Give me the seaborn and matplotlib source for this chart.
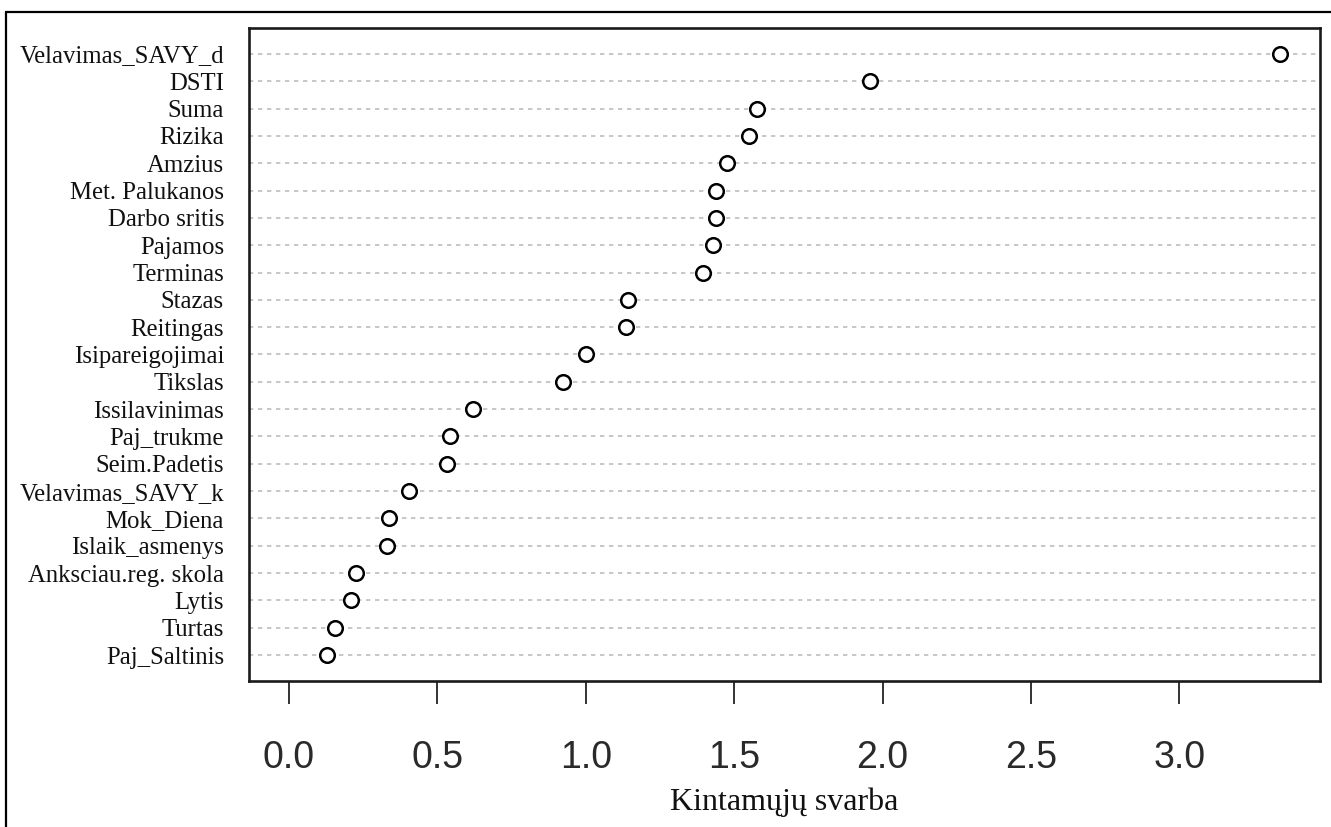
import matplotlib
matplotlib.use("Agg")
import matplotlib.pyplot as plt
from matplotlib.lines import Line2D
import seaborn as sns
import pandas as pd

# Variable importance values, ordered from most to least important
variables = [
    "Velavimas_SAVY_d", "DSTI", "Suma", "Rizika", "Amzius", "Met. Palukanos",
    "Darbo sritis", "Pajamos", "Terminas", "Stazas", "Reitingas",
    "Isipareigojimai", "Tikslas", "Issilavinimas", "Paj_trukme",
    "Seim.Padetis", "Velavimas_SAVY_k", "Mok_Diena", "Islaik_asmenys",
    "Anksciau.reg. skola", "Lytis", "Turtas", "Paj_Saltinis",
]
importance = [
    3.34, 1.956, 1.576, 1.549, 1.475, 1.438, 1.440, 1.428, 1.394, 1.141,
    1.135, 1.000, 0.923, 0.620, 0.542, 0.534, 0.404, 0.337, 0.330, 0.226,
    0.209, 0.155, 0.128,
]
x_ticks = [0.0, 0.5, 1.0, 1.5, 2.0, 2.5, 3.0]
x_label = "Kintamųjų svarba"

df = pd.DataFrame({"Kintamasis": variables, "Svarba": importance})

sns.set_theme(style="white")
fig = plt.figure(figsize=(13.31, 8.27), dpi=100)
ax = fig.add_axes([249 / 1331, 1 - 681 / 827, (1320 - 249) / 1331, (681 - 28) / 827])

sns.stripplot(
    data=df, x="Svarba", y="Kintamasis", order=variables, jitter=False,
    ax=ax, color="white", edgecolor="black", linewidth=1.8, size=10.5,
    zorder=3,
)

# dotted guide line for every variable
for i in range(len(variables)):
    ax.axhline(i, color="#bdbdbd", linewidth=1.2, linestyle=(0, (2.6, 2.8)), zorder=1)

ax.set_xlim(-0.1348, 3.4737)
ax.set_ylim(len(variables) - 1 + 0.95, -0.95)

ax.set_xticks(x_ticks)
ax.set_xticklabels([f"{t:.1f}" for t in x_ticks], fontfamily="Liberation Sans",
                   fontsize=27, color="#2a2a2a")
ax.tick_params(axis="x", direction="out", length=16.5, width=1.3, color="#222222",
               pad=26, bottom=True)
ax.tick_params(axis="y", length=0, pad=18)
for lbl in ax.get_yticklabels():
    lbl.set_fontfamily("Liberation Serif")
    lbl.set_fontsize(17.8)
    lbl.set_color("#111111")

ax.set_ylabel("")
ax.set_xlabel(x_label, fontfamily="Liberation Serif", fontsize=23, color="#111111",
              labelpad=8)

for side in ["left", "right", "top", "bottom"]:
    ax.spines[side].set_visible(True)
    ax.spines[side].set_color("#1a1a1a")
    ax.spines[side].set_linewidth(1.9)

# outer frame around the figure (left and top edges)
fig.add_artist(Line2D([6 / 1331, 6 / 1331], [0, 1 - 12 / 827], color="black",
                      linewidth=1.6, transform=fig.transFigure))
fig.add_artist(Line2D([6 / 1331, 1], [1 - 12 / 827, 1 - 12 / 827], color="black",
                      linewidth=1.6, transform=fig.transFigure))

fig.savefig("out.png", dpi=100, facecolor="white")
